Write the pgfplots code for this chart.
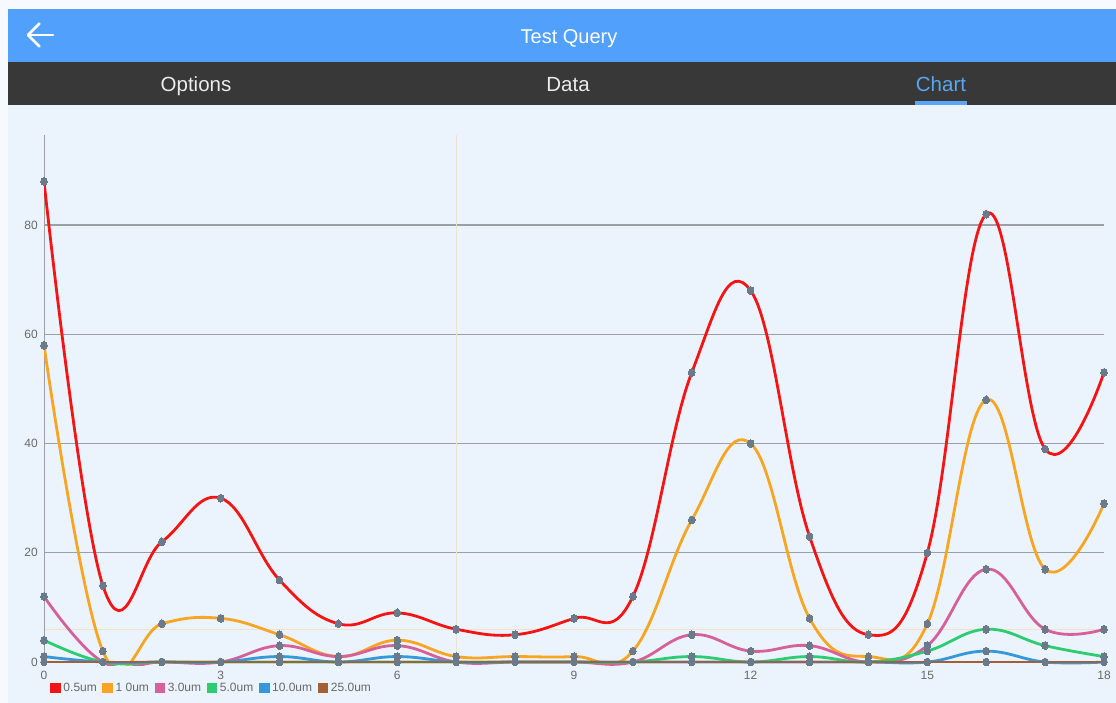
\documentclass[border=0pt]{standalone}
\usepackage{pgfplots}
\pgfplotsset{compat=1.18}
\usepackage{pgfplotstable}
\usepackage{fontspec}
\setmainfont{Liberation Sans}
\definecolor{topbg}{RGB}{246,249,253}
\definecolor{chartbg}{RGB}{235,243,252}
\definecolor{headblue}{RGB}{80,160,252}
\definecolor{darkbar}{RGB}{56,56,56}
\definecolor{tabblue}{RGB}{90,165,245}
\definecolor{gridgray}{RGB}{155,160,165}
\definecolor{markgray}{RGB}{107,122,138}
\definecolor{cRed}{RGB}{245,20,20}
\definecolor{cOrange}{RGB}{247,165,35}
\definecolor{cPink}{RGB}{214,96,154}
\definecolor{cGreen}{RGB}{46,204,113}
\definecolor{cBlue}{RGB}{52,152,219}
\definecolor{cBrown}{RGB}{165,95,55}
\definecolor{faint}{RGB}{242,226,205}
\definecolor{ticktext}{RGB}{105,105,105}

\pgfplotstableread{
x   r   o   p   g   b   br
0   88  58  12  4   1   0
1   14  2   0   0   0   0
2   22  7   0   0   0   0
3   30  8   0   0   0   0
4   15  5   3   0   1   0
5   7   1   1   0   0   0
6   9   4   3   0   1   0
7   6   1   0   0   0   0
8   5   1   0   0   0   0
9   8   1   0   0   0   0
10  12  2   0   0   0   0
11  53  26  5   1   0   0
12  68  40  2   0   0   0
13  23  8   3   1   0   0
14  5   1   0   0   0   0
15  20  7   3   2   0   0
16  82  48  17  6   2   0
17  39  17  6   3   0   0
18  53  29  6   1   0   0
}\datatable

\begin{document}
\begin{tikzpicture}[x=1pt,y=1pt]
\useasboundingbox (0,0) rectangle (1116,703);
\fill[topbg] (0,0) rectangle (1116,703);
\fill[chartbg] (8,0) rectangle (1116,598);
\fill[headblue] (8,641) rectangle (1116,694);
\fill[darkbar] (8,598) rectangle (1116,641);
\fill[tabblue] (915,598) rectangle (967,601.5);
\draw[white, line width=2.6pt, line cap=round] (28,668) -- (53,668);
\draw[white, line width=2.6pt, line cap=round, line join=round] (39.5,679.5) -- (28,668) -- (39.5,656.5);
\node[white, anchor=base, inner sep=0pt, font=\fontsize{20}{24}\selectfont] at (569,659) {Test Query};
\node[white!92!black, anchor=base, inner sep=0pt, font=\fontsize{20.5}{24}\selectfont] at (196,611.5) {Options};
\node[white!92!black, anchor=base, inner sep=0pt, font=\fontsize{20.5}{24}\selectfont] at (568,611.5) {Data};
\node[tabblue, anchor=base, inner sep=0pt, font=\fontsize{20.5}{24}\selectfont] at (941,611.5) {Chart};

\begin{axis}[
  at={(44pt,37.7pt)}, anchor=south west,
  scale only axis, width=1060pt, height=530.4pt,
  xmin=0, xmax=18, ymin=-0.6, ymax=96.5,
  axis line style={draw=none},
  xtick={0,3,...,18}, ytick={0,20,...,80},
  major tick length=0pt,
  ymajorgrids, grid style={gridgray, line width=1.3pt},
  /pgf/number format/assume math mode=true,
  ticklabel style={font=\fontsize{12}{14}\selectfont, text=ticktext, inner sep=0pt},
  yticklabel style={anchor=east, xshift=-6pt},
  xticklabel style={anchor=north, yshift=-6pt},
  every axis plot/.append style={line width=2.8pt, smooth, tension=0.7, no marks},
  legend image code/.code={\fill[#1] (0pt,-4pt) rectangle (8pt,4pt);},
  legend style={at={(0,0)}, anchor=west, xshift=6pt, yshift=-22.7pt,
    draw=none, fill=none, inner sep=0pt, legend columns=-1,
    font=\fontsize{12}{14}\selectfont, text=ticktext,
    nodes={inner sep=2.5pt},
    /tikz/every even column/.append style={column sep=3pt}},
]
\draw[faint, line width=1pt] (axis cs:7,-0.6) -- (axis cs:7,96.5);
\draw[faint, line width=1pt] (axis cs:0,6) -- (axis cs:18,6);
\draw[gridgray, line width=1.3pt] (axis cs:0,0) -- (axis cs:0,96.5);
\addplot[color=cRed] table[x=x,y=r] {\datatable};
\addlegendentry{0.5um}
\addplot[color=cOrange] table[x=x,y=o] {\datatable};
\addlegendentry{1 0um}
\addplot[color=cPink] table[x=x,y=p] {\datatable};
\addlegendentry{3.0um}
\addplot[color=cGreen] table[x=x,y=g] {\datatable};
\addlegendentry{5.0um}
\addplot[color=cBlue] table[x=x,y=b] {\datatable};
\addlegendentry{10.0um}
\addplot[color=cBrown] table[x=x,y=br] {\datatable};
\addlegendentry{25.0um}
\pgfplotsinvokeforeach{r,o,p,g,b,br}{
  \addplot[forget plot, only marks, mark=*, color=markgray, mark size=3.9pt,
    mark options={xscale=0.85, line width=0pt}] table[x=x,y=#1] {\datatable};
}
\end{axis}
\end{tikzpicture}
\end{document}
